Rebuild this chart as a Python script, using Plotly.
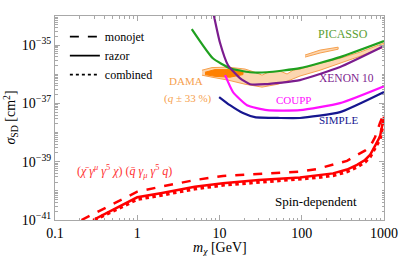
import numpy as np
import plotly.graph_objects as go

# ---------------- data ----------------
# collider bounds (red)
monojet_m = [0.21, 1, 2, 5, 11, 30, 95, 153, 240, 355, 470, 587, 676, 778, 893, 1000]
monojet_logsig = [-41.0, -40.03, -39.85, -39.63, -39.49, -39.42, -39.34, -39.25, -39.11, -38.97, -38.77,
                  -38.62, -38.49, -38.16, -37.67, -37.33]
razor_m = [0.29, 1, 2, 5, 11, 30, 95, 153, 240, 355, 470, 587, 676, 778, 893, 1000]
razor_logsig = [-41.0, -40.22, -40.07, -39.86, -39.74, -39.63, -39.54, -39.47, -39.40, -39.27, -39.11,
                -38.94, -38.77, -38.46, -38.14, -37.46]
combined_m = [0.30, 1, 2, 5, 11, 30, 95, 153, 240, 355, 470, 587, 676, 778, 893, 1000]
combined_logsig = [-41.0, -40.29, -40.14, -39.93, -39.80, -39.70, -39.61, -39.54, -39.47, -39.34, -39.18,
                   -39.01, -38.84, -38.53, -38.22, -37.55]

# direct detection limits
picasso_m = [4.6, 8.3, 13.4, 23.5, 37.8, 95, 292, 1000]
picasso_logsig = [-34.45, -35.45, -35.79, -35.93, -35.93, -35.79, -35.41, -34.86]
xenon_m = [8.0, 10.1, 12.7, 17.7, 23.5, 35.7, 95, 292, 1000]
xenon_logsig = [-33.6, -34.90, -35.69, -36.13, -36.34, -36.34, -36.20, -35.75, -35.03]
coupp_m = [11.7, 14.6, 21.6, 37.8, 95, 292, 1000]
coupp_logsig = [-36.03, -36.61, -37.06, -37.23, -37.23, -36.99, -36.41]
simple_m = [9.9, 13.4, 19.3, 26.9, 54.5, 95, 292, 1000]
simple_logsig = [-36.78, -37.06, -37.33, -37.47, -37.50, -37.50, -37.30, -36.61]

# DAMA regions
dama_outer_m = [6.12, 8.11, 12.7, 20.4, 27.0, 32.9, 38.9, 54.5, 66.3, 78.3, 95.3, 167, 292, 511, 1000,
                1000, 511, 292, 167, 95.3, 72, 51.4, 32.9, 20.4, 12.7, 8.11, 6.12]
dama_outer_logsig = [-35.86, -35.77, -35.755, -35.82, -35.93, -36.03, -35.93, -35.89, -35.99, -35.86, -35.82,
                     -35.62, -35.45, -35.24, -34.93,
                     -35.07, -35.38, -35.62, -35.86, -36.06, -36.20, -36.34, -36.44, -36.34, -36.20, -36.10, -36.03]
dama_island_m = [109.6, 167, 277, 277, 167, 109.6]
dama_island_logsig = [-35.34, -35.17, -35.07, -35.14, -35.27, -35.41]
dama_core_m = [6.67, 8.81, 13.4, 19.3, 19.3, 13.4, 8.81, 6.67]
dama_core_logsig = [-35.93, -35.84, -35.84, -35.90, -36.01, -36.10, -36.07, -36.01]

x_tickvals = [0.1, 1, 10, 100, 1000]
x_ticktext = ["0.1", "1", "10", "100", "1000"]
y_tick_exps = [-41, -39, -37, -35]

FONT = "Times New Roman, Liberation Serif, DejaVu Serif, serif"

def sig(a):
    return 10 ** np.array(a, dtype=float)

fig = go.Figure()

# DAMA
peach = "rgba(252,214,176,1)"
orange_line = "#f6a04d"
fig.add_trace(go.Scatter(x=dama_outer_m, y=sig(dama_outer_logsig), mode="lines", fill="toself",
                         fillcolor=peach, line=dict(color=orange_line, width=1), showlegend=False))
fig.add_trace(go.Scatter(x=dama_island_m, y=sig(dama_island_logsig), mode="lines", fill="toself",
                         fillcolor=peach, line=dict(color=orange_line, width=1), showlegend=False))
fig.add_trace(go.Scatter(x=dama_core_m, y=sig(dama_core_logsig), mode="lines", fill="toself",
                         fillcolor="#ff8000", line=dict(color="#ff8000", width=1), showlegend=False))

# experimental limits
for m, s, c in [(picasso_m, picasso_logsig, "#1fa01f"),
                (xenon_m, xenon_logsig, "#7b1c8e"),
                (coupp_m, coupp_logsig, "#ff10ff"),
                (simple_m, simple_logsig, "#16168f")]:
    fig.add_trace(go.Scatter(x=m, y=sig(s), mode="lines",
                             line=dict(color=c, width=2.2, shape="spline", smoothing=0.5), showlegend=False))

# collider limits
red = "#ff0000"
fig.add_trace(go.Scatter(x=combined_m, y=sig(combined_logsig), mode="lines",
                         line=dict(color=red, width=3.5, dash="dot"), showlegend=False))
fig.add_trace(go.Scatter(x=razor_m, y=sig(razor_logsig), mode="lines",
                         line=dict(color=red, width=2.5), showlegend=False))
fig.add_trace(go.Scatter(x=monojet_m, y=sig(monojet_logsig), mode="lines",
                         line=dict(color=red, width=2.5, dash="dash"), showlegend=False))

# legend entries
for name, dash in [("monojet", "dash"), ("razor", "solid"), ("combined", "dot")]:
    fig.add_trace(go.Scatter(x=[None], y=[None], mode="lines", name=name,
                             line=dict(color="black", width=1.8, dash=dash)))

annots = [
    ("PICASSO", 2.50, -34.62, "#5a9e32", 12),
    ("XENON 10", 2.55, -36.13, "#7b1c8e", 11.5),
    ("COUPP", 1.894, -36.89, "#ff10ff", 11),
    ("SIMPLE", 2.441, -37.57, "#16168f", 11),
    ("DAMA", 0.593, -36.23, "#f6a04d", 11),
    ("(<i>q</i> ± 33 %)", 0.617, -36.82, "#f6a04d", 11),
    ("(<i>χ̄</i> <i>γ</i><sup><i>μ</i></sup> <i>γ</i><sup>5</sup> <i>χ</i>) (<i>q̄</i> <i>γ</i><sub><i>μ</i></sub> <i>γ</i><sup>5</sup> <i>q</i>)",
     -0.161, -39.35, "#ff3030", 12),
    ("Spin-dependent", 2.173, -40.38, "black", 13),
]
for t, x, y, c, s in annots:
    fig.add_annotation(x=x, y=y, xref="x", yref="y", text=t, showarrow=False,
                       font=dict(family=FONT, size=s, color=c))

fig.add_annotation(x=0.5, y=-0.09, xref="paper", yref="paper", yanchor="top",
                   text="<i>m</i><sub><i>χ</i></sub> [GeV]", showarrow=False,
                   font=dict(family=FONT, size=14, color="black"))
fig.add_annotation(x=-0.135, y=0.5, xref="paper", yref="paper", xanchor="center",
                   text="<i>σ</i><sub>SD</sub> [cm<sup>2</sup>]", textangle=-90, showarrow=False,
                   font=dict(family=FONT, size=14, color="black"))

axcol = "#a8a8a8"
fig.update_xaxes(type="log", range=[-1, 3], tickvals=x_tickvals, ticktext=x_ticktext, automargin=False,
                 showline=True, linecolor=axcol, linewidth=1, mirror="ticks",
                 ticks="inside", ticklen=5, tickcolor=axcol, showgrid=False, zeroline=False,
                 minor=dict(ticks="inside", ticklen=2.5, tickcolor=axcol, dtick="D1", showgrid=False),
                 tickfont=dict(family=FONT, size=14, color="black"))
fig.update_yaxes(type="log", range=[-41, -34], tickvals=[10.0 ** e for e in y_tick_exps], automargin=False,
                 ticktext=["10<sup>−%d</sup>" % (-e) for e in y_tick_exps],
                 showline=True, linecolor=axcol, linewidth=1, mirror="ticks",
                 ticks="inside", ticklen=5, tickcolor=axcol, showgrid=False, zeroline=False,
                 minor=dict(ticks="inside", ticklen=2.5, tickcolor=axcol, dtick="D1", showgrid=False),
                 tickfont=dict(family=FONT, size=14, color="black"))

fig.update_layout(width=399, height=256, margin=dict(l=55, r=15, t=16, b=36),
                  paper_bgcolor="white", plot_bgcolor="white",
                  legend=dict(x=0.03, y=0.97, xanchor="left", yanchor="top",
                              bgcolor="rgba(0,0,0,0)", font=dict(family=FONT, size=12, color="black"),
                              tracegroupgap=0, itemwidth=30))

# remove the default page margin so the 399x256 figure fills the window exactly
fig.write_html("out.html", config={"displayModeBar": False},
               post_script="document.body.style.margin='0';document.body.style.overflow='hidden';")
